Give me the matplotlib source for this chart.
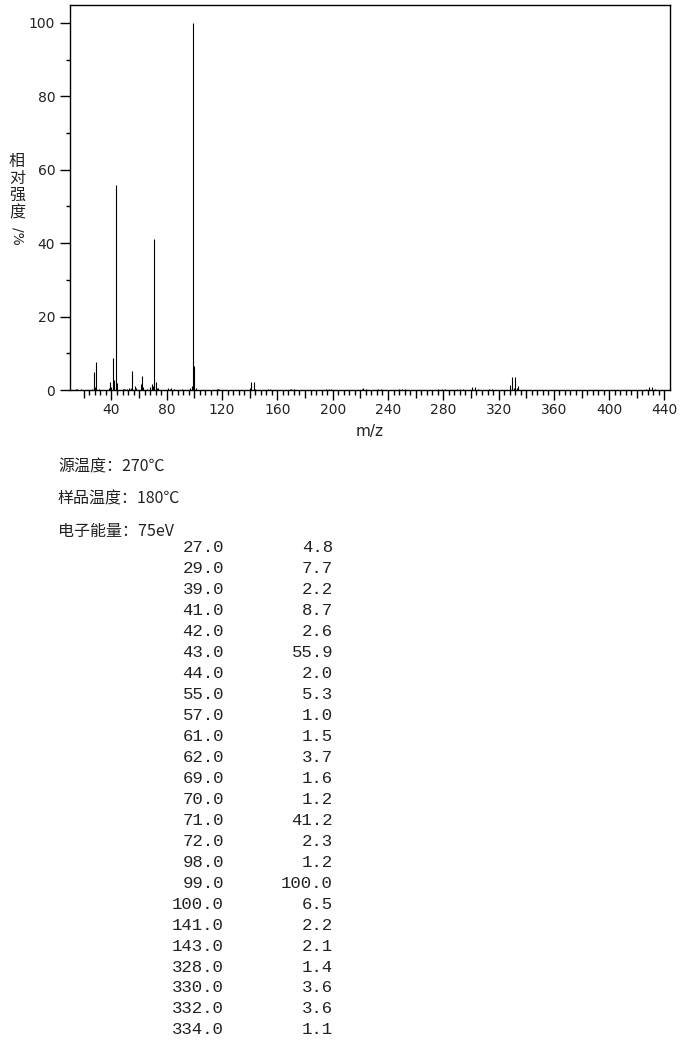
import matplotlib
matplotlib.use("Agg")
import matplotlib.pyplot as plt
from matplotlib.ticker import FixedLocator, NullFormatter

# ---- data ----
table_mz = [27.0, 29.0, 39.0, 41.0, 42.0, 43.0, 44.0, 55.0, 57.0, 61.0, 62.0, 69.0,
            70.0, 71.0, 72.0, 98.0, 99.0, 100.0, 141.0, 143.0, 328.0, 330.0, 332.0, 334.0]
table_int = [4.8, 7.7, 2.2, 8.7, 2.6, 55.9, 2.0, 5.3, 1.0, 1.5, 3.7, 1.6,
             1.2, 41.2, 2.3, 1.2, 100.0, 6.5, 2.2, 2.1, 1.4, 3.6, 3.6, 1.1]

# minor (unlisted) peaks
noise_mz = [14, 15, 18, 26, 28, 31, 38, 40, 48, 49, 50, 51, 53, 54, 58, 63, 66, 68,
            73, 74, 81, 82, 83, 85, 91, 97, 101, 116, 117, 118, 140, 144, 153, 155,
            169, 170, 172, 195, 197, 199, 221, 222, 224, 233, 235, 248, 250, 252,
            276, 279, 281, 290, 292, 294, 301, 303, 305, 313, 315, 331, 333,
            427, 429, 431, 433]
noise_int = [0.2, 0.2, 0.35, 0.4, 0.8, 0.3, 0.6, 0.8, 0.3, 0.3, 0.3, 0.3, 0.5, 0.5, 0.5, 0.8, 0.4, 0.8,
             0.5, 0.6, 0.5, 0.3, 0.6, 0.3, 0.3, 0.6, 0.5, 0.3, 0.3, 0.3, 0.5, 0.4, 0.2, 0.2,
             0.3, 0.3, 0.3, 0.3, 0.3, 0.3, 0.3, 0.5, 0.4, 0.3, 0.3, 0.3, 0.4, 0.3,
             0.3, 0.3, 0.3, 0.3, 0.3, 0.3, 0.8, 0.8, 0.4, 0.3, 0.3, 0.6, 0.6,
             0.4, 0.9, 0.8, 0.3]

x_major = list(range(40, 441, 40))
x_mid = [v for v in range(20, 441, 20) if v % 40 != 0]
x_minor = [v for v in range(20, 441, 4) if v % 20 != 0]
y_major = [0, 20, 40, 60, 80, 100]
y_minor = [10, 30, 50, 70, 90]

info_lines = ["源温度：270℃", "样品温度：180℃", "电子能量：75eV"]

# ---- figure ----
W, H = 680, 1049
fig = plt.figure(figsize=(W / 100, H / 100), dpi=100)

def fx(px):
    return px / W

def fy(py):
    return 1 - py / H

ax = fig.add_axes([fx(70), fy(390), fx(670) - fx(70), fy(5) - fy(390)])
ax.set_xlim(10, 444)
ax.set_ylim(0, 104.9)

ax.vlines(noise_mz, 0, noise_int, colors="black", linewidth=0.8)
ax.vlines(table_mz, 0, table_int, colors="black", linewidth=0.8)

for s in ax.spines.values():
    s.set_linewidth(1.0)
    s.set_color("black")

tick_color = "#222222"
ax.xaxis.set_major_locator(FixedLocator(x_major))
ax.xaxis.set_minor_locator(FixedLocator(x_minor))
ax.xaxis.set_minor_formatter(NullFormatter())
ax.yaxis.set_major_locator(FixedLocator(y_major))
ax.yaxis.set_minor_locator(FixedLocator(y_minor))
ax.yaxis.set_minor_formatter(NullFormatter())
ax.set_yticklabels([str(v) for v in y_major])
ax.set_xticklabels([str(v) for v in x_major])

ax.tick_params(axis="x", which="major", length=7.2, width=1.0, direction="out",
               labelsize=10, pad=2.5, labelcolor=tick_color)
ax.tick_params(axis="x", which="minor", length=3.6, width=1.0, direction="out")
ax.tick_params(axis="y", which="major", length=7.2, width=1.0, direction="out",
               labelsize=10, pad=3.5, labelcolor=tick_color)
ax.tick_params(axis="y", which="minor", length=3.0, width=1.0, direction="out")

sec = ax.secondary_xaxis("bottom")
sec.set_xticks(x_mid)
sec.set_xticklabels([])
sec.tick_params(axis="x", which="major", length=5.4, width=1.0, direction="out")
sec.spines["bottom"].set_visible(False)

ax.set_xlabel("m/z", fontsize=11, color=tick_color, labelpad=5)

# y label
fig.text(fx(17), fy(187), "相\n对\n强\n度", family=["Noto Sans CJK SC", "DejaVu Sans"],
         fontsize=11.5, ha="center", va="center", linespacing=1.0, color="#222222")
fig.text(fx(17), fy(236), "/%", rotation=-90, fontsize=10, ha="center", va="center",
         color="#222222")

# info lines
for i, t in enumerate(info_lines):
    fig.text(fx(58), fy(467 + 32 * i), t, family=["Noto Sans CJK SC", "DejaVu Sans"],
             fontsize=11.5, ha="left", va="center", color="#222222")

# table
for i, (m, v) in enumerate(zip(table_mz, table_int)):
    y = fy(548 + 20.95 * i)
    fig.text(fx(224), y, f"{m:.1f}", family="Liberation Mono", fontsize=12.5,
             ha="right", va="center", color="#222222")
    fig.text(fx(333), y, f"{v:.1f}", family="Liberation Mono", fontsize=12.5,
             ha="right", va="center", color="#222222")

fig.savefig("out.png", dpi=100)
